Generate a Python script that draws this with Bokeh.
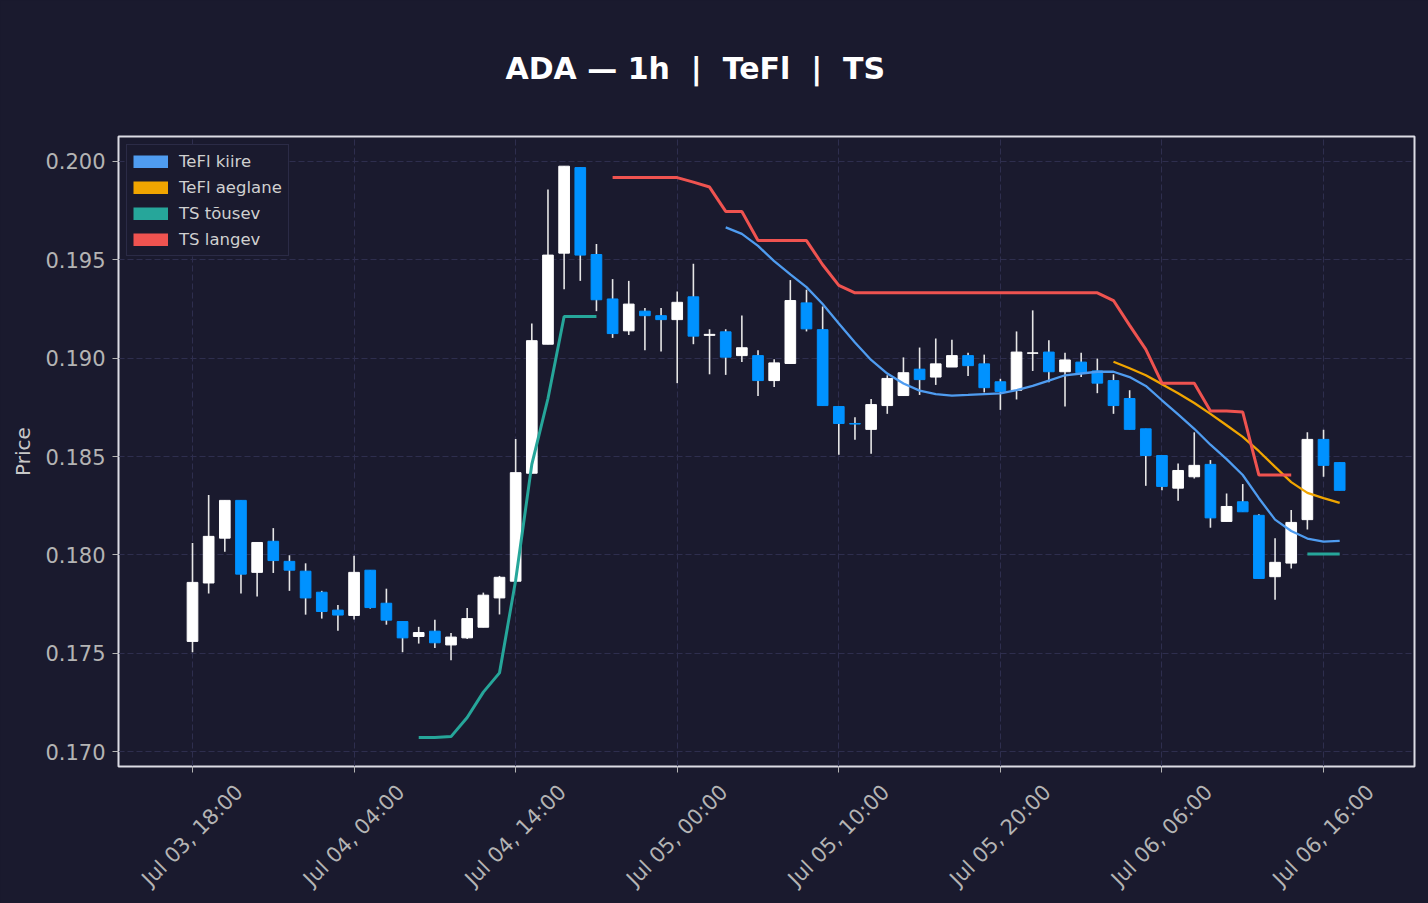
import numpy as np
import pandas as pd
from math import pi
from bokeh.plotting import figure
from bokeh.models import (Range1d, DatetimeAxis, FixedTicker, DatetimeTickFormatter,
                          NumeralTickFormatter, Legend, LegendItem, ColumnDataSource,
                          CustomLabelingPolicy, Title)
from bokeh.embed import file_html
from bokeh.resources import INLINE

# ---------------- data ----------------
start_time = "2024-07-03 18:00"
n_bars = 72
times = pd.date_range(start_time, periods=n_bars, freq="h")

open_ = [0.17560, 0.17857, 0.18085, 0.18277, 0.17911, 0.18069, 0.17967, 0.17917, 0.17810, 0.17719,
         0.17692, 0.17922, 0.17754, 0.17661, 0.17585, 0.17612, 0.17542, 0.17578, 0.17632, 0.17781,
         0.17866, 0.18415, 0.19071, 0.19534, 0.19969, 0.19527, 0.19301, 0.19139, 0.19239, 0.19216,
         0.19196, 0.19312, 0.19116, 0.19134, 0.19013, 0.19013, 0.18886, 0.18973, 0.19281, 0.19145,
         0.18754, 0.18668, 0.18638, 0.18759, 0.18810, 0.18944, 0.18904, 0.18955, 0.19013, 0.18971,
         0.18880, 0.18837, 0.19025, 0.19031, 0.18931, 0.18980, 0.18935, 0.18886, 0.18795, 0.18641,
         0.18505, 0.18339, 0.18397, 0.18460, 0.18170, 0.18270, 0.18201, 0.17889, 0.17958, 0.18179,
         0.18587, 0.18469]
high = [0.18060, 0.18304, 0.18277, 0.18277, 0.18063, 0.18136, 0.17998, 0.17957, 0.17817, 0.17745,
        0.17995, 0.17922, 0.17828, 0.17661, 0.17634, 0.17670, 0.17603, 0.17730, 0.17808, 0.17893,
        0.18589, 0.19176, 0.19857, 0.19976, 0.19969, 0.19580, 0.19402, 0.19393, 0.19255, 0.19255,
        0.19339, 0.19480, 0.19147, 0.19147, 0.19217, 0.19040, 0.18995, 0.19397, 0.19348, 0.19263,
        0.18754, 0.18699, 0.18792, 0.18913, 0.19004, 0.19054, 0.19100, 0.19094, 0.19027, 0.19018,
        0.18895, 0.19136, 0.19243, 0.19091, 0.19027, 0.19027, 0.18998, 0.18918, 0.18837, 0.18641,
        0.18505, 0.18464, 0.18623, 0.18482, 0.18312, 0.18360, 0.18207, 0.18085, 0.18228, 0.18623,
        0.18636, 0.18469]
low = [0.17505, 0.17803, 0.18016, 0.17803, 0.17788, 0.17908, 0.17817, 0.17696, 0.17676, 0.17614,
       0.17672, 0.17727, 0.17645, 0.17505, 0.17549, 0.17527, 0.17464, 0.17572, 0.17632, 0.17697,
       0.17866, 0.18415, 0.19071, 0.19351, 0.19393, 0.19239, 0.19103, 0.19118, 0.19040, 0.19034,
       0.18873, 0.19071, 0.18918, 0.18915, 0.18980, 0.18808, 0.18853, 0.18973, 0.19136, 0.18759,
       0.18509, 0.18585, 0.18514, 0.18717, 0.18808, 0.18813, 0.18864, 0.18955, 0.18909, 0.18826,
       0.18737, 0.18790, 0.18935, 0.18877, 0.18754, 0.18904, 0.18822, 0.18717, 0.18638, 0.18351,
       0.18328, 0.18275, 0.18388, 0.18138, 0.18170, 0.18219, 0.17880, 0.17772, 0.17931, 0.18129,
       0.18397, 0.18328]
close = [0.17860, 0.18094, 0.18277, 0.17902, 0.18063, 0.17971, 0.17922, 0.17781, 0.17712, 0.17694,
         0.17911, 0.17732, 0.17668, 0.17578, 0.17605, 0.17553, 0.17582, 0.17676, 0.17795, 0.17886,
         0.18418, 0.19089, 0.19524, 0.19976, 0.19524, 0.19297, 0.19125, 0.19275, 0.19216, 0.19196,
         0.19284, 0.19112, 0.19121, 0.19005, 0.19053, 0.18886, 0.18976, 0.19293, 0.19149, 0.18759,
         0.18668, 0.18665, 0.18764, 0.18897, 0.18926, 0.18891, 0.18971, 0.19013, 0.18962, 0.18850,
         0.18831, 0.19031, 0.19027, 0.18931, 0.18991, 0.18926, 0.18873, 0.18759, 0.18638, 0.18505,
         0.18348, 0.18429, 0.18455, 0.18188, 0.18246, 0.18219, 0.17880, 0.17962, 0.18165, 0.18587,
         0.18455, 0.18328]

# TeFl kiire (fast) starts at bar 33
tefl_kiire = [None] * 33 + [
    0.19665, 0.19632, 0.19571, 0.19493, 0.19426, 0.19361, 0.19275, 0.19176, 0.19080, 0.18991,
    0.18922, 0.18871, 0.18835, 0.18817, 0.18810, 0.18813, 0.18817, 0.18821, 0.18837, 0.18859,
    0.18886, 0.18913, 0.18922, 0.18931, 0.18931, 0.18904, 0.18859, 0.18786, 0.18714, 0.18641,
    0.18560, 0.18487, 0.18406, 0.18288, 0.18179, 0.18121, 0.18083, 0.18067, 0.18071]
# TeFl aeglane (slow) starts at bar 57
tefl_aeglane = [None] * 57 + [
    0.18982, 0.18949, 0.18913, 0.18868, 0.18822, 0.18772, 0.18717, 0.18659, 0.18600, 0.18527,
    0.18447, 0.18370, 0.18315, 0.18288, 0.18264]
# TS tõusev (rising trailing stop)
ts_tousev = [None] * 14 + [
    0.17071, 0.17071, 0.17076, 0.17173, 0.17302, 0.17400, 0.17871, 0.18460, 0.18795, 0.19212,
    0.19212, 0.19212] + [None] * 43 + [0.18004, 0.18004, 0.18004]
# TS langev (falling trailing stop)
ts_langev = [None] * 26 + [
    0.19918, 0.19918, 0.19918, 0.19918, 0.19918, 0.19895, 0.19870, 0.19746, 0.19746, 0.19598,
    0.19598, 0.19598, 0.19598, 0.19475, 0.19370, 0.19332, 0.19332, 0.19332, 0.19332, 0.19332,
    0.19332, 0.19332, 0.19332, 0.19332, 0.19332, 0.19332, 0.19332, 0.19332, 0.19332, 0.19332,
    0.19332, 0.19293, 0.19167, 0.19045, 0.18873, 0.18873, 0.18873, 0.18732, 0.18732, 0.18726,
    0.18406, 0.18406, 0.18406] + [None] * 3

y_ticks = [0.170, 0.175, 0.180, 0.185, 0.190, 0.195, 0.200]
x_tick_every_hours = 10

# non-breaking spaces keep the double spacing of the original title in SVG
title_text = "ADA \u2014 1h \u00a0|\u00a0 TeFl \u00a0|\u00a0 TS"
legend_labels = ["TeFl kiire", "TeFl aeglane", "TS t\u00f5usev", "TS langev"]

# ---------------- styling ----------------
BG = "#1a1a2e"
UP = "#ffffff"
DOWN = "#0092ff"
WICK = "#e6e6e6"
C_FAST = "#4f9cf0"
C_SLOW = "#f0a500"
C_UPTS = "#26a69a"
C_DNTS = "#ef5350"
GRID = "#2e2e4e"
FONT = "DejaVu Sans"

HR = 3600 * 1000.0
t0 = times[0].value / 1e6
x_start = t0 - 4.58 * HR
x_end = t0 + 75.63 * HR

to_arr = lambda a: np.array([np.nan if v is None else v for v in a], dtype=float)

src = ColumnDataSource(dict(
    t=times, open=open_, high=high, low=low, close=close,
    top=np.maximum(open_, close), bottom=np.minimum(open_, close),
    color=[UP if c >= o else DOWN for o, c in zip(open_, close)],
))

p = figure(width=1428, height=903, x_axis_type="datetime", output_backend="svg",
           toolbar_location=None, title=None,
           x_range=Range1d(x_start, x_end), y_range=Range1d(0.16924, 0.20127),
           min_border_left=118, min_border_right=14, min_border_top=136, min_border_bottom=137)

p.background_fill_color = BG
p.border_fill_color = BG
p.outline_line_color = "#dcdce4"
p.outline_line_width = 2

xa = p.below[0]   # the default datetime x axis
ya = p.left[0]    # the default y axis

tick_ms = [t0 + i * HR for i in range(0, n_bars, x_tick_every_hours)]

p.title = Title(text=title_text, align="left", offset=387, standoff=98, vertical_align="top",
                text_font=FONT, text_font_size="30px", text_font_style="bold",
                text_color="#ffffff")

for g in (p.xgrid[0], p.ygrid[0]):
    g.grid_line_color = GRID
    g.grid_line_dash = "6 3"
    g.grid_line_width = 1
p.xgrid[0].ticker = FixedTicker(ticks=tick_ms)
p.ygrid[0].ticker = FixedTicker(ticks=y_ticks)

# main x axis: tick marks only (its labels are filtered out)
xa.ticker = FixedTicker(ticks=tick_ms)
xa.major_label_policy = CustomLabelingPolicy(code="return []")
xa.major_label_text_font_size = "1px"
xa.major_label_standoff = 0
xa.major_tick_out = 6
xa.major_tick_in = 0
xa.major_tick_line_color = "#b4b4b4"
xa.minor_tick_line_color = None
xa.axis_line_color = None

# label axis, shifted so rotated labels are centred on the ticks
shift = 2.9 * HR
p.extra_x_ranges = {"lbl": Range1d(x_start - shift, x_end - shift)}
fmt_str = "%b %d, %H:%M"
fmt = DatetimeTickFormatter(hours=fmt_str, hourmin=fmt_str, minutes=fmt_str, minsec=fmt_str,
                            seconds=fmt_str, days=fmt_str, months=fmt_str, years=fmt_str,
                            strip_leading_zeros=False)
lab_ax = DatetimeAxis(x_range_name="lbl", ticker=FixedTicker(ticks=tick_ms), formatter=fmt,
                      major_label_orientation=pi / 4, major_tick_line_color=None,
                      minor_tick_line_color=None, axis_line_color=None,
                      major_label_standoff=5,
                      major_label_text_font=FONT, major_label_text_font_size="21px",
                      major_label_text_color="#b4b4b4")
p.add_layout(lab_ax, "below")

ya.ticker = FixedTicker(ticks=y_ticks)
ya.formatter = NumeralTickFormatter(format="0.000")
ya.axis_line_color = None
ya.major_tick_line_color = "#b4b4b4"
ya.major_tick_out = 6
ya.major_tick_in = 0
ya.minor_tick_line_color = None
ya.major_label_standoff = 7
ya.major_label_text_font = FONT
ya.major_label_text_font_size = "21px"
ya.major_label_text_color = "#b4b4b4"
ya.axis_label = "Price"
ya.axis_label_text_font = FONT
ya.axis_label_text_font_size = "20px"
ya.axis_label_text_font_style = "normal"
ya.axis_label_text_color = "#c8c8c8"
ya.axis_label_standoff = 7

# candles
bar_w = 0.66 * HR
p.segment(x0="t", y0="high", x1="t", y1="low", source=src, line_color=WICK, line_width=1.6)
p.vbar(x="t", width=bar_w, top="top", bottom="bottom", source=src,
       fill_color="color", line_color="color", line_width=1)

# indicator lines
p.line(times, to_arr(tefl_kiire), line_color=C_FAST, line_width=2.3)
p.line(times, to_arr(tefl_aeglane), line_color=C_SLOW, line_width=2.3)
p.line(times, to_arr(ts_tousev), line_color=C_UPTS, line_width=3)
p.line(times, to_arr(ts_langev), line_color=C_DNTS, line_width=3)

# legend with rectangular swatches (proxy renderers lie outside the visible range)
items = []
off_x = [x_end + 10 * HR, x_end + 11 * HR]
off_y = [0.19, 0.19]
for lbl, col in zip(legend_labels, [C_FAST, C_SLOW, C_UPTS, C_DNTS]):
    r = p.line(x=off_x, y=off_y, line_color=col, line_width=13)
    items.append(LegendItem(label=lbl, renderers=[r]))
legend = Legend(items=items, location="top_left", margin=8, padding=6, spacing=6,
                glyph_width=35, glyph_height=13, label_height=20, label_standoff=11,
                label_text_font=FONT, label_text_font_size="16.5px", label_text_color="#d0d0d0",
                background_fill_color=BG, background_fill_alpha=1.0,
                border_line_color="#3c3c5e", border_line_width=1.5)
p.add_layout(legend)

html = file_html(p, INLINE)
html = html.replace("</head>", "<style>html,body{margin:0;padding:0;background:%s;}</style></head>" % BG, 1)
open("out.html", "w").write(html)
